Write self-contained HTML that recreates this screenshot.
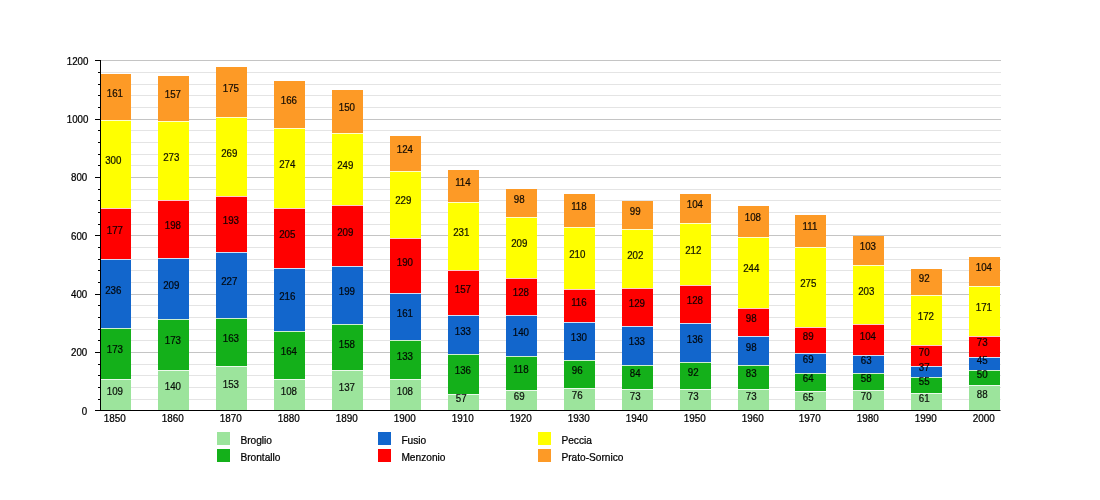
<!DOCTYPE html>
<html><head><meta charset="utf-8"><title>Chart</title>
<style>
html,body{margin:0;padding:0;background:#fff;}
body{width:1100px;height:500px;overflow:hidden;}
svg{display:block;}
text{font-family:"Liberation Sans",sans-serif;fill:#000;stroke:#000;stroke-width:0.25px;}
</style></head><body>
<svg width="1100" height="500" viewBox="0 0 1100 500">
<rect width="1100" height="500" fill="#fff"/>

<g stroke-width="1">
<line x1="101" x2="1001" y1="399.5" y2="399.5" stroke="#e4e4e4"/>
<line x1="101" x2="1001" y1="387.5" y2="387.5" stroke="#e4e4e4"/>
<line x1="101" x2="1001" y1="375.5" y2="375.5" stroke="#e4e4e4"/>
<line x1="101" x2="1001" y1="364.5" y2="364.5" stroke="#e4e4e4"/>
<line x1="101" x2="1001" y1="340.5" y2="340.5" stroke="#e4e4e4"/>
<line x1="101" x2="1001" y1="329.5" y2="329.5" stroke="#e4e4e4"/>
<line x1="101" x2="1001" y1="317.5" y2="317.5" stroke="#e4e4e4"/>
<line x1="101" x2="1001" y1="305.5" y2="305.5" stroke="#e4e4e4"/>
<line x1="101" x2="1001" y1="282.5" y2="282.5" stroke="#e4e4e4"/>
<line x1="101" x2="1001" y1="270.5" y2="270.5" stroke="#e4e4e4"/>
<line x1="101" x2="1001" y1="259.5" y2="259.5" stroke="#e4e4e4"/>
<line x1="101" x2="1001" y1="247.5" y2="247.5" stroke="#e4e4e4"/>
<line x1="101" x2="1001" y1="224.5" y2="224.5" stroke="#e4e4e4"/>
<line x1="101" x2="1001" y1="212.5" y2="212.5" stroke="#e4e4e4"/>
<line x1="101" x2="1001" y1="200.5" y2="200.5" stroke="#e4e4e4"/>
<line x1="101" x2="1001" y1="189.5" y2="189.5" stroke="#e4e4e4"/>
<line x1="101" x2="1001" y1="165.5" y2="165.5" stroke="#e4e4e4"/>
<line x1="101" x2="1001" y1="154.5" y2="154.5" stroke="#e4e4e4"/>
<line x1="101" x2="1001" y1="142.5" y2="142.5" stroke="#e4e4e4"/>
<line x1="101" x2="1001" y1="130.5" y2="130.5" stroke="#e4e4e4"/>
<line x1="101" x2="1001" y1="107.5" y2="107.5" stroke="#e4e4e4"/>
<line x1="101" x2="1001" y1="95.5" y2="95.5" stroke="#e4e4e4"/>
<line x1="101" x2="1001" y1="84.5" y2="84.5" stroke="#e4e4e4"/>
<line x1="101" x2="1001" y1="72.5" y2="72.5" stroke="#e4e4e4"/>
<line x1="101" x2="1001" y1="352.5" y2="352.5" stroke="#c4c4c4"/>
<line x1="101" x2="1001" y1="294.5" y2="294.5" stroke="#c4c4c4"/>
<line x1="101" x2="1001" y1="235.5" y2="235.5" stroke="#c4c4c4"/>
<line x1="101" x2="1001" y1="177.5" y2="177.5" stroke="#c4c4c4"/>
<line x1="101" x2="1001" y1="119.5" y2="119.5" stroke="#c4c4c4"/>
<line x1="101" x2="1001" y1="60.5" y2="60.5" stroke="#c4c4c4"/>
</g>
<g>
<rect x="100" y="380" width="31" height="31" fill="#9ce49c"/>
<rect x="100" y="379" width="31" height="1" fill="#9ce49c"/>
<rect x="100" y="379" width="31" height="1" fill="#fff" fill-opacity="0.8"/>
<rect x="100" y="329" width="31" height="50" fill="#14b01a"/>
<rect x="100" y="328" width="31" height="1" fill="#14b01a"/>
<rect x="100" y="328" width="31" height="1" fill="#fff" fill-opacity="0.8"/>
<rect x="100" y="260" width="31" height="68" fill="#1266cc"/>
<rect x="100" y="259" width="31" height="1" fill="#1266cc"/>
<rect x="100" y="259" width="31" height="1" fill="#fff" fill-opacity="0.8"/>
<rect x="100" y="209" width="31" height="50" fill="#ff0000"/>
<rect x="100" y="208" width="31" height="1" fill="#ff0000"/>
<rect x="100" y="208" width="31" height="1" fill="#fff" fill-opacity="0.8"/>
<rect x="100" y="121" width="31" height="87" fill="#ffff00"/>
<rect x="100" y="120" width="31" height="1" fill="#ffff00"/>
<rect x="100" y="120" width="31" height="1" fill="#fff" fill-opacity="0.8"/>
<rect x="100" y="74" width="31" height="46" fill="#fd9a26"/>
</g>
<g>
<rect x="158" y="371" width="31" height="40" fill="#9ce49c"/>
<rect x="158" y="370" width="31" height="1" fill="#9ce49c"/>
<rect x="158" y="370" width="31" height="1" fill="#fff" fill-opacity="0.8"/>
<rect x="158" y="320" width="31" height="50" fill="#14b01a"/>
<rect x="158" y="319" width="31" height="1" fill="#14b01a"/>
<rect x="158" y="319" width="31" height="1" fill="#fff" fill-opacity="0.8"/>
<rect x="158" y="259" width="31" height="60" fill="#1266cc"/>
<rect x="158" y="258" width="31" height="1" fill="#1266cc"/>
<rect x="158" y="258" width="31" height="1" fill="#fff" fill-opacity="0.8"/>
<rect x="158" y="201" width="31" height="57" fill="#ff0000"/>
<rect x="158" y="200" width="31" height="1" fill="#ff0000"/>
<rect x="158" y="200" width="31" height="1" fill="#fff" fill-opacity="0.8"/>
<rect x="158" y="122" width="31" height="78" fill="#ffff00"/>
<rect x="158" y="121" width="31" height="1" fill="#ffff00"/>
<rect x="158" y="121" width="31" height="1" fill="#fff" fill-opacity="0.8"/>
<rect x="158" y="76" width="31" height="45" fill="#fd9a26"/>
</g>
<g>
<rect x="216" y="367" width="31" height="44" fill="#9ce49c"/>
<rect x="216" y="366" width="31" height="1" fill="#9ce49c"/>
<rect x="216" y="366" width="31" height="1" fill="#fff" fill-opacity="0.8"/>
<rect x="216" y="319" width="31" height="47" fill="#14b01a"/>
<rect x="216" y="318" width="31" height="1" fill="#14b01a"/>
<rect x="216" y="318" width="31" height="1" fill="#fff" fill-opacity="0.8"/>
<rect x="216" y="253" width="31" height="65" fill="#1266cc"/>
<rect x="216" y="252" width="31" height="1" fill="#1266cc"/>
<rect x="216" y="252" width="31" height="1" fill="#fff" fill-opacity="0.8"/>
<rect x="216" y="197" width="31" height="55" fill="#ff0000"/>
<rect x="216" y="196" width="31" height="1" fill="#ff0000"/>
<rect x="216" y="196" width="31" height="1" fill="#fff" fill-opacity="0.8"/>
<rect x="216" y="118" width="31" height="78" fill="#ffff00"/>
<rect x="216" y="117" width="31" height="1" fill="#ffff00"/>
<rect x="216" y="117" width="31" height="1" fill="#fff" fill-opacity="0.8"/>
<rect x="216" y="67" width="31" height="50" fill="#fd9a26"/>
</g>
<g>
<rect x="274" y="380" width="31" height="31" fill="#9ce49c"/>
<rect x="274" y="379" width="31" height="1" fill="#9ce49c"/>
<rect x="274" y="379" width="31" height="1" fill="#fff" fill-opacity="0.8"/>
<rect x="274" y="332" width="31" height="47" fill="#14b01a"/>
<rect x="274" y="331" width="31" height="1" fill="#14b01a"/>
<rect x="274" y="331" width="31" height="1" fill="#fff" fill-opacity="0.8"/>
<rect x="274" y="269" width="31" height="62" fill="#1266cc"/>
<rect x="274" y="268" width="31" height="1" fill="#1266cc"/>
<rect x="274" y="268" width="31" height="1" fill="#fff" fill-opacity="0.8"/>
<rect x="274" y="209" width="31" height="59" fill="#ff0000"/>
<rect x="274" y="208" width="31" height="1" fill="#ff0000"/>
<rect x="274" y="208" width="31" height="1" fill="#fff" fill-opacity="0.8"/>
<rect x="274" y="129" width="31" height="79" fill="#ffff00"/>
<rect x="274" y="128" width="31" height="1" fill="#ffff00"/>
<rect x="274" y="128" width="31" height="1" fill="#fff" fill-opacity="0.8"/>
<rect x="274" y="81" width="31" height="47" fill="#fd9a26"/>
</g>
<g>
<rect x="332" y="371" width="31" height="40" fill="#9ce49c"/>
<rect x="332" y="370" width="31" height="1" fill="#9ce49c"/>
<rect x="332" y="370" width="31" height="1" fill="#fff" fill-opacity="0.8"/>
<rect x="332" y="325" width="31" height="45" fill="#14b01a"/>
<rect x="332" y="324" width="31" height="1" fill="#14b01a"/>
<rect x="332" y="324" width="31" height="1" fill="#fff" fill-opacity="0.8"/>
<rect x="332" y="267" width="31" height="57" fill="#1266cc"/>
<rect x="332" y="266" width="31" height="1" fill="#1266cc"/>
<rect x="332" y="266" width="31" height="1" fill="#fff" fill-opacity="0.8"/>
<rect x="332" y="206" width="31" height="60" fill="#ff0000"/>
<rect x="332" y="205" width="31" height="1" fill="#ff0000"/>
<rect x="332" y="205" width="31" height="1" fill="#fff" fill-opacity="0.8"/>
<rect x="332" y="134" width="31" height="71" fill="#ffff00"/>
<rect x="332" y="133" width="31" height="1" fill="#ffff00"/>
<rect x="332" y="133" width="31" height="1" fill="#fff" fill-opacity="0.8"/>
<rect x="332" y="90" width="31" height="43" fill="#fd9a26"/>
</g>
<g>
<rect x="390" y="380" width="31" height="31" fill="#9ce49c"/>
<rect x="390" y="379" width="31" height="1" fill="#9ce49c"/>
<rect x="390" y="379" width="31" height="1" fill="#fff" fill-opacity="0.8"/>
<rect x="390" y="341" width="31" height="38" fill="#14b01a"/>
<rect x="390" y="340" width="31" height="1" fill="#14b01a"/>
<rect x="390" y="340" width="31" height="1" fill="#fff" fill-opacity="0.8"/>
<rect x="390" y="294" width="31" height="46" fill="#1266cc"/>
<rect x="390" y="293" width="31" height="1" fill="#1266cc"/>
<rect x="390" y="293" width="31" height="1" fill="#fff" fill-opacity="0.8"/>
<rect x="390" y="239" width="31" height="54" fill="#ff0000"/>
<rect x="390" y="238" width="31" height="1" fill="#ff0000"/>
<rect x="390" y="238" width="31" height="1" fill="#fff" fill-opacity="0.8"/>
<rect x="390" y="172" width="31" height="66" fill="#ffff00"/>
<rect x="390" y="171" width="31" height="1" fill="#ffff00"/>
<rect x="390" y="171" width="31" height="1" fill="#fff" fill-opacity="0.8"/>
<rect x="390" y="136" width="31" height="35" fill="#fd9a26"/>
</g>
<g>
<rect x="448" y="395" width="31" height="16" fill="#9ce49c"/>
<rect x="448" y="394" width="31" height="1" fill="#9ce49c"/>
<rect x="448" y="394" width="31" height="1" fill="#fff" fill-opacity="0.8"/>
<rect x="448" y="355" width="31" height="39" fill="#14b01a"/>
<rect x="448" y="354" width="31" height="1" fill="#14b01a"/>
<rect x="448" y="354" width="31" height="1" fill="#fff" fill-opacity="0.8"/>
<rect x="448" y="316" width="31" height="38" fill="#1266cc"/>
<rect x="448" y="315" width="31" height="1" fill="#1266cc"/>
<rect x="448" y="315" width="31" height="1" fill="#fff" fill-opacity="0.8"/>
<rect x="448" y="271" width="31" height="44" fill="#ff0000"/>
<rect x="448" y="270" width="31" height="1" fill="#ff0000"/>
<rect x="448" y="270" width="31" height="1" fill="#fff" fill-opacity="0.8"/>
<rect x="448" y="203" width="31" height="67" fill="#ffff00"/>
<rect x="448" y="202" width="31" height="1" fill="#ffff00"/>
<rect x="448" y="202" width="31" height="1" fill="#fff" fill-opacity="0.8"/>
<rect x="448" y="170" width="31" height="32" fill="#fd9a26"/>
</g>
<g>
<rect x="506" y="391" width="31" height="20" fill="#9ce49c"/>
<rect x="506" y="390" width="31" height="1" fill="#9ce49c"/>
<rect x="506" y="390" width="31" height="1" fill="#fff" fill-opacity="0.8"/>
<rect x="506" y="357" width="31" height="33" fill="#14b01a"/>
<rect x="506" y="356" width="31" height="1" fill="#14b01a"/>
<rect x="506" y="356" width="31" height="1" fill="#fff" fill-opacity="0.8"/>
<rect x="506" y="316" width="31" height="40" fill="#1266cc"/>
<rect x="506" y="315" width="31" height="1" fill="#1266cc"/>
<rect x="506" y="315" width="31" height="1" fill="#fff" fill-opacity="0.8"/>
<rect x="506" y="279" width="31" height="36" fill="#ff0000"/>
<rect x="506" y="278" width="31" height="1" fill="#ff0000"/>
<rect x="506" y="278" width="31" height="1" fill="#fff" fill-opacity="0.8"/>
<rect x="506" y="218" width="31" height="60" fill="#ffff00"/>
<rect x="506" y="217" width="31" height="1" fill="#ffff00"/>
<rect x="506" y="217" width="31" height="1" fill="#fff" fill-opacity="0.8"/>
<rect x="506" y="189" width="31" height="28" fill="#fd9a26"/>
</g>
<g>
<rect x="564" y="389" width="31" height="22" fill="#9ce49c"/>
<rect x="564" y="388" width="31" height="1" fill="#9ce49c"/>
<rect x="564" y="388" width="31" height="1" fill="#fff" fill-opacity="0.8"/>
<rect x="564" y="361" width="31" height="27" fill="#14b01a"/>
<rect x="564" y="360" width="31" height="1" fill="#14b01a"/>
<rect x="564" y="360" width="31" height="1" fill="#fff" fill-opacity="0.8"/>
<rect x="564" y="323" width="31" height="37" fill="#1266cc"/>
<rect x="564" y="322" width="31" height="1" fill="#1266cc"/>
<rect x="564" y="322" width="31" height="1" fill="#fff" fill-opacity="0.8"/>
<rect x="564" y="290" width="31" height="32" fill="#ff0000"/>
<rect x="564" y="289" width="31" height="1" fill="#ff0000"/>
<rect x="564" y="289" width="31" height="1" fill="#fff" fill-opacity="0.8"/>
<rect x="564" y="228" width="31" height="61" fill="#ffff00"/>
<rect x="564" y="227" width="31" height="1" fill="#ffff00"/>
<rect x="564" y="227" width="31" height="1" fill="#fff" fill-opacity="0.8"/>
<rect x="564" y="194" width="31" height="33" fill="#fd9a26"/>
</g>
<g>
<rect x="622" y="390" width="31" height="21" fill="#9ce49c"/>
<rect x="622" y="389" width="31" height="1" fill="#9ce49c"/>
<rect x="622" y="389" width="31" height="1" fill="#fff" fill-opacity="0.8"/>
<rect x="622" y="366" width="31" height="23" fill="#14b01a"/>
<rect x="622" y="365" width="31" height="1" fill="#14b01a"/>
<rect x="622" y="365" width="31" height="1" fill="#fff" fill-opacity="0.8"/>
<rect x="622" y="327" width="31" height="38" fill="#1266cc"/>
<rect x="622" y="326" width="31" height="1" fill="#1266cc"/>
<rect x="622" y="326" width="31" height="1" fill="#fff" fill-opacity="0.8"/>
<rect x="622" y="289" width="31" height="37" fill="#ff0000"/>
<rect x="622" y="288" width="31" height="1" fill="#ff0000"/>
<rect x="622" y="288" width="31" height="1" fill="#fff" fill-opacity="0.8"/>
<rect x="622" y="230" width="31" height="58" fill="#ffff00"/>
<rect x="622" y="229" width="31" height="1" fill="#ffff00"/>
<rect x="622" y="229" width="31" height="1" fill="#fff" fill-opacity="0.8"/>
<rect x="622" y="201" width="31" height="28" fill="#fd9a26"/>
</g>
<g>
<rect x="680" y="390" width="31" height="21" fill="#9ce49c"/>
<rect x="680" y="389" width="31" height="1" fill="#9ce49c"/>
<rect x="680" y="389" width="31" height="1" fill="#fff" fill-opacity="0.8"/>
<rect x="680" y="363" width="31" height="26" fill="#14b01a"/>
<rect x="680" y="362" width="31" height="1" fill="#14b01a"/>
<rect x="680" y="362" width="31" height="1" fill="#fff" fill-opacity="0.8"/>
<rect x="680" y="324" width="31" height="38" fill="#1266cc"/>
<rect x="680" y="323" width="31" height="1" fill="#1266cc"/>
<rect x="680" y="323" width="31" height="1" fill="#fff" fill-opacity="0.8"/>
<rect x="680" y="286" width="31" height="37" fill="#ff0000"/>
<rect x="680" y="285" width="31" height="1" fill="#ff0000"/>
<rect x="680" y="285" width="31" height="1" fill="#fff" fill-opacity="0.8"/>
<rect x="680" y="224" width="31" height="61" fill="#ffff00"/>
<rect x="680" y="223" width="31" height="1" fill="#ffff00"/>
<rect x="680" y="223" width="31" height="1" fill="#fff" fill-opacity="0.8"/>
<rect x="680" y="194" width="31" height="29" fill="#fd9a26"/>
</g>
<g>
<rect x="738" y="390" width="31" height="21" fill="#9ce49c"/>
<rect x="738" y="389" width="31" height="1" fill="#9ce49c"/>
<rect x="738" y="389" width="31" height="1" fill="#fff" fill-opacity="0.8"/>
<rect x="738" y="366" width="31" height="23" fill="#14b01a"/>
<rect x="738" y="365" width="31" height="1" fill="#14b01a"/>
<rect x="738" y="365" width="31" height="1" fill="#fff" fill-opacity="0.8"/>
<rect x="738" y="337" width="31" height="28" fill="#1266cc"/>
<rect x="738" y="336" width="31" height="1" fill="#1266cc"/>
<rect x="738" y="336" width="31" height="1" fill="#fff" fill-opacity="0.8"/>
<rect x="738" y="309" width="31" height="27" fill="#ff0000"/>
<rect x="738" y="308" width="31" height="1" fill="#ff0000"/>
<rect x="738" y="308" width="31" height="1" fill="#fff" fill-opacity="0.8"/>
<rect x="738" y="238" width="31" height="70" fill="#ffff00"/>
<rect x="738" y="237" width="31" height="1" fill="#ffff00"/>
<rect x="738" y="237" width="31" height="1" fill="#fff" fill-opacity="0.8"/>
<rect x="738" y="206" width="31" height="31" fill="#fd9a26"/>
</g>
<g>
<rect x="795" y="392" width="31" height="19" fill="#9ce49c"/>
<rect x="795" y="391" width="31" height="1" fill="#9ce49c"/>
<rect x="795" y="391" width="31" height="1" fill="#fff" fill-opacity="0.8"/>
<rect x="795" y="374" width="31" height="17" fill="#14b01a"/>
<rect x="795" y="373" width="31" height="1" fill="#14b01a"/>
<rect x="795" y="373" width="31" height="1" fill="#fff" fill-opacity="0.8"/>
<rect x="795" y="354" width="31" height="19" fill="#1266cc"/>
<rect x="795" y="353" width="31" height="1" fill="#1266cc"/>
<rect x="795" y="353" width="31" height="1" fill="#fff" fill-opacity="0.8"/>
<rect x="795" y="328" width="31" height="25" fill="#ff0000"/>
<rect x="795" y="327" width="31" height="1" fill="#ff0000"/>
<rect x="795" y="327" width="31" height="1" fill="#fff" fill-opacity="0.8"/>
<rect x="795" y="248" width="31" height="79" fill="#ffff00"/>
<rect x="795" y="247" width="31" height="1" fill="#ffff00"/>
<rect x="795" y="247" width="31" height="1" fill="#fff" fill-opacity="0.8"/>
<rect x="795" y="215" width="31" height="32" fill="#fd9a26"/>
</g>
<g>
<rect x="853" y="391" width="31" height="20" fill="#9ce49c"/>
<rect x="853" y="390" width="31" height="1" fill="#9ce49c"/>
<rect x="853" y="390" width="31" height="1" fill="#fff" fill-opacity="0.8"/>
<rect x="853" y="374" width="31" height="16" fill="#14b01a"/>
<rect x="853" y="373" width="31" height="1" fill="#14b01a"/>
<rect x="853" y="373" width="31" height="1" fill="#fff" fill-opacity="0.8"/>
<rect x="853" y="356" width="31" height="17" fill="#1266cc"/>
<rect x="853" y="355" width="31" height="1" fill="#1266cc"/>
<rect x="853" y="355" width="31" height="1" fill="#fff" fill-opacity="0.8"/>
<rect x="853" y="325" width="31" height="30" fill="#ff0000"/>
<rect x="853" y="324" width="31" height="1" fill="#ff0000"/>
<rect x="853" y="324" width="31" height="1" fill="#fff" fill-opacity="0.8"/>
<rect x="853" y="266" width="31" height="58" fill="#ffff00"/>
<rect x="853" y="265" width="31" height="1" fill="#ffff00"/>
<rect x="853" y="265" width="31" height="1" fill="#fff" fill-opacity="0.8"/>
<rect x="853" y="236" width="31" height="29" fill="#fd9a26"/>
</g>
<g>
<rect x="911" y="394" width="31" height="17" fill="#9ce49c"/>
<rect x="911" y="393" width="31" height="1" fill="#9ce49c"/>
<rect x="911" y="393" width="31" height="1" fill="#fff" fill-opacity="0.8"/>
<rect x="911" y="378" width="31" height="15" fill="#14b01a"/>
<rect x="911" y="377" width="31" height="1" fill="#14b01a"/>
<rect x="911" y="377" width="31" height="1" fill="#fff" fill-opacity="0.8"/>
<rect x="911" y="367" width="31" height="10" fill="#1266cc"/>
<rect x="911" y="366" width="31" height="1" fill="#1266cc"/>
<rect x="911" y="366" width="31" height="1" fill="#fff" fill-opacity="0.8"/>
<rect x="911" y="346" width="31" height="20" fill="#ff0000"/>
<rect x="911" y="345" width="31" height="1" fill="#ff0000"/>
<rect x="911" y="345" width="31" height="1" fill="#fff" fill-opacity="0.8"/>
<rect x="911" y="296" width="31" height="49" fill="#ffff00"/>
<rect x="911" y="295" width="31" height="1" fill="#ffff00"/>
<rect x="911" y="295" width="31" height="1" fill="#fff" fill-opacity="0.8"/>
<rect x="911" y="269" width="31" height="26" fill="#fd9a26"/>
</g>
<g>
<rect x="969" y="386" width="31" height="25" fill="#9ce49c"/>
<rect x="969" y="385" width="31" height="1" fill="#9ce49c"/>
<rect x="969" y="385" width="31" height="1" fill="#fff" fill-opacity="0.8"/>
<rect x="969" y="371" width="31" height="14" fill="#14b01a"/>
<rect x="969" y="370" width="31" height="1" fill="#14b01a"/>
<rect x="969" y="370" width="31" height="1" fill="#fff" fill-opacity="0.8"/>
<rect x="969" y="358" width="31" height="12" fill="#1266cc"/>
<rect x="969" y="357" width="31" height="1" fill="#1266cc"/>
<rect x="969" y="357" width="31" height="1" fill="#fff" fill-opacity="0.8"/>
<rect x="969" y="337" width="31" height="20" fill="#ff0000"/>
<rect x="969" y="336" width="31" height="1" fill="#ff0000"/>
<rect x="969" y="336" width="31" height="1" fill="#fff" fill-opacity="0.8"/>
<rect x="969" y="287" width="31" height="49" fill="#ffff00"/>
<rect x="969" y="286" width="31" height="1" fill="#ffff00"/>
<rect x="969" y="286" width="31" height="1" fill="#fff" fill-opacity="0.8"/>
<rect x="969" y="257" width="31" height="29" fill="#fd9a26"/>
</g>
<g font-size="11" fill-opacity="0.9" stroke-opacity="0.9">
<text transform="translate(114.90,395.00) scale(0.885,1)" text-anchor="middle">109</text>
<text transform="translate(114.90,353.00) scale(0.885,1)" text-anchor="middle">173</text>
<text transform="translate(113.30,294.00) scale(0.885,1)" text-anchor="middle">236</text>
<text transform="translate(114.90,234.00) scale(0.885,1)" text-anchor="middle">177</text>
<text transform="translate(113.30,164.00) scale(0.885,1)" text-anchor="middle">300</text>
<text transform="translate(114.90,97.00) scale(0.885,1)" text-anchor="middle">161</text>
<text transform="translate(172.90,390.00) scale(0.885,1)" text-anchor="middle">140</text>
<text transform="translate(172.90,344.00) scale(0.885,1)" text-anchor="middle">173</text>
<text transform="translate(171.30,289.00) scale(0.885,1)" text-anchor="middle">209</text>
<text transform="translate(172.90,229.00) scale(0.885,1)" text-anchor="middle">198</text>
<text transform="translate(171.30,161.00) scale(0.885,1)" text-anchor="middle">273</text>
<text transform="translate(172.90,98.00) scale(0.885,1)" text-anchor="middle">157</text>
<text transform="translate(230.90,388.00) scale(0.885,1)" text-anchor="middle">153</text>
<text transform="translate(230.90,342.00) scale(0.885,1)" text-anchor="middle">163</text>
<text transform="translate(229.30,285.00) scale(0.885,1)" text-anchor="middle">227</text>
<text transform="translate(230.90,224.00) scale(0.885,1)" text-anchor="middle">193</text>
<text transform="translate(229.30,157.00) scale(0.885,1)" text-anchor="middle">269</text>
<text transform="translate(230.90,92.00) scale(0.885,1)" text-anchor="middle">175</text>
<text transform="translate(288.90,395.00) scale(0.885,1)" text-anchor="middle">108</text>
<text transform="translate(288.90,355.00) scale(0.885,1)" text-anchor="middle">164</text>
<text transform="translate(287.30,300.00) scale(0.885,1)" text-anchor="middle">216</text>
<text transform="translate(287.30,238.00) scale(0.885,1)" text-anchor="middle">205</text>
<text transform="translate(287.30,168.00) scale(0.885,1)" text-anchor="middle">274</text>
<text transform="translate(288.90,104.00) scale(0.885,1)" text-anchor="middle">166</text>
<text transform="translate(346.90,391.00) scale(0.885,1)" text-anchor="middle">137</text>
<text transform="translate(346.90,348.00) scale(0.885,1)" text-anchor="middle">158</text>
<text transform="translate(346.90,295.00) scale(0.885,1)" text-anchor="middle">199</text>
<text transform="translate(345.30,236.00) scale(0.885,1)" text-anchor="middle">209</text>
<text transform="translate(345.30,169.00) scale(0.885,1)" text-anchor="middle">249</text>
<text transform="translate(346.90,111.00) scale(0.885,1)" text-anchor="middle">150</text>
<text transform="translate(404.90,395.00) scale(0.885,1)" text-anchor="middle">108</text>
<text transform="translate(404.90,360.00) scale(0.885,1)" text-anchor="middle">133</text>
<text transform="translate(404.90,317.00) scale(0.885,1)" text-anchor="middle">161</text>
<text transform="translate(404.90,266.00) scale(0.885,1)" text-anchor="middle">190</text>
<text transform="translate(403.30,204.00) scale(0.885,1)" text-anchor="middle">229</text>
<text transform="translate(404.90,153.00) scale(0.885,1)" text-anchor="middle">124</text>
<text transform="translate(461.20,402.00) scale(0.885,1)" text-anchor="middle">57</text>
<text transform="translate(462.90,374.00) scale(0.885,1)" text-anchor="middle">136</text>
<text transform="translate(462.90,335.00) scale(0.885,1)" text-anchor="middle">133</text>
<text transform="translate(462.90,293.00) scale(0.885,1)" text-anchor="middle">157</text>
<text transform="translate(461.30,236.00) scale(0.885,1)" text-anchor="middle">231</text>
<text transform="translate(462.90,186.00) scale(0.885,1)" text-anchor="middle">114</text>
<text transform="translate(519.20,400.00) scale(0.885,1)" text-anchor="middle">69</text>
<text transform="translate(520.90,373.00) scale(0.885,1)" text-anchor="middle">118</text>
<text transform="translate(520.90,336.00) scale(0.885,1)" text-anchor="middle">140</text>
<text transform="translate(520.90,296.00) scale(0.885,1)" text-anchor="middle">128</text>
<text transform="translate(519.30,247.00) scale(0.885,1)" text-anchor="middle">209</text>
<text transform="translate(519.20,203.00) scale(0.885,1)" text-anchor="middle">98</text>
<text transform="translate(577.20,399.00) scale(0.885,1)" text-anchor="middle">76</text>
<text transform="translate(577.20,374.00) scale(0.885,1)" text-anchor="middle">96</text>
<text transform="translate(578.90,341.00) scale(0.885,1)" text-anchor="middle">130</text>
<text transform="translate(578.90,306.00) scale(0.885,1)" text-anchor="middle">116</text>
<text transform="translate(577.30,258.00) scale(0.885,1)" text-anchor="middle">210</text>
<text transform="translate(578.90,210.00) scale(0.885,1)" text-anchor="middle">118</text>
<text transform="translate(635.20,400.00) scale(0.885,1)" text-anchor="middle">73</text>
<text transform="translate(635.20,377.00) scale(0.885,1)" text-anchor="middle">84</text>
<text transform="translate(636.90,345.00) scale(0.885,1)" text-anchor="middle">133</text>
<text transform="translate(636.90,307.00) scale(0.885,1)" text-anchor="middle">129</text>
<text transform="translate(635.30,259.00) scale(0.885,1)" text-anchor="middle">202</text>
<text transform="translate(635.20,215.00) scale(0.885,1)" text-anchor="middle">99</text>
<text transform="translate(693.20,400.00) scale(0.885,1)" text-anchor="middle">73</text>
<text transform="translate(693.20,376.00) scale(0.885,1)" text-anchor="middle">92</text>
<text transform="translate(694.90,343.00) scale(0.885,1)" text-anchor="middle">136</text>
<text transform="translate(694.90,304.00) scale(0.885,1)" text-anchor="middle">128</text>
<text transform="translate(693.30,254.00) scale(0.885,1)" text-anchor="middle">212</text>
<text transform="translate(694.90,208.00) scale(0.885,1)" text-anchor="middle">104</text>
<text transform="translate(751.20,400.00) scale(0.885,1)" text-anchor="middle">73</text>
<text transform="translate(751.20,377.00) scale(0.885,1)" text-anchor="middle">83</text>
<text transform="translate(751.20,351.00) scale(0.885,1)" text-anchor="middle">98</text>
<text transform="translate(751.20,322.00) scale(0.885,1)" text-anchor="middle">98</text>
<text transform="translate(751.30,272.00) scale(0.885,1)" text-anchor="middle">244</text>
<text transform="translate(752.90,221.00) scale(0.885,1)" text-anchor="middle">108</text>
<text transform="translate(808.20,401.00) scale(0.885,1)" text-anchor="middle">65</text>
<text transform="translate(808.20,382.00) scale(0.885,1)" text-anchor="middle">64</text>
<text transform="translate(808.20,363.00) scale(0.885,1)" text-anchor="middle">69</text>
<text transform="translate(808.20,340.00) scale(0.885,1)" text-anchor="middle">89</text>
<text transform="translate(808.30,287.00) scale(0.885,1)" text-anchor="middle">275</text>
<text transform="translate(809.90,230.00) scale(0.885,1)" text-anchor="middle">111</text>
<text transform="translate(866.20,400.00) scale(0.885,1)" text-anchor="middle">70</text>
<text transform="translate(866.20,382.00) scale(0.885,1)" text-anchor="middle">58</text>
<text transform="translate(866.20,364.00) scale(0.885,1)" text-anchor="middle">63</text>
<text transform="translate(867.90,340.00) scale(0.885,1)" text-anchor="middle">104</text>
<text transform="translate(866.30,295.00) scale(0.885,1)" text-anchor="middle">203</text>
<text transform="translate(867.90,250.00) scale(0.885,1)" text-anchor="middle">103</text>
<text transform="translate(924.20,402.00) scale(0.885,1)" text-anchor="middle">61</text>
<text transform="translate(924.20,385.00) scale(0.885,1)" text-anchor="middle">55</text>
<text transform="translate(924.20,371.00) scale(0.885,1)" text-anchor="middle">37</text>
<text transform="translate(924.20,356.00) scale(0.885,1)" text-anchor="middle">70</text>
<text transform="translate(925.90,320.00) scale(0.885,1)" text-anchor="middle">172</text>
<text transform="translate(924.20,282.00) scale(0.885,1)" text-anchor="middle">92</text>
<text transform="translate(982.20,398.00) scale(0.885,1)" text-anchor="middle">88</text>
<text transform="translate(982.20,378.00) scale(0.885,1)" text-anchor="middle">50</text>
<text transform="translate(982.20,364.00) scale(0.885,1)" text-anchor="middle">45</text>
<text transform="translate(982.20,346.00) scale(0.885,1)" text-anchor="middle">73</text>
<text transform="translate(983.90,311.00) scale(0.885,1)" text-anchor="middle">171</text>
<text transform="translate(983.90,271.00) scale(0.885,1)" text-anchor="middle">104</text>
</g>
<g fill="#000">
<rect x="100" y="60" width="1" height="351"/>
<rect x="95" y="410" width="905.5" height="1"/>
<rect x="95" y="410" width="5.5" height="1"/>
<rect x="98" y="399" width="2.5" height="1"/>
<rect x="98" y="387" width="2.5" height="1"/>
<rect x="98" y="375" width="2.5" height="1"/>
<rect x="98" y="364" width="2.5" height="1"/>
<rect x="95" y="352" width="5.5" height="1"/>
<rect x="98" y="340" width="2.5" height="1"/>
<rect x="98" y="329" width="2.5" height="1"/>
<rect x="98" y="317" width="2.5" height="1"/>
<rect x="98" y="305" width="2.5" height="1"/>
<rect x="95" y="294" width="5.5" height="1"/>
<rect x="98" y="282" width="2.5" height="1"/>
<rect x="98" y="270" width="2.5" height="1"/>
<rect x="98" y="259" width="2.5" height="1"/>
<rect x="98" y="247" width="2.5" height="1"/>
<rect x="95" y="235" width="5.5" height="1"/>
<rect x="98" y="224" width="2.5" height="1"/>
<rect x="98" y="212" width="2.5" height="1"/>
<rect x="98" y="200" width="2.5" height="1"/>
<rect x="98" y="189" width="2.5" height="1"/>
<rect x="95" y="177" width="5.5" height="1"/>
<rect x="98" y="165" width="2.5" height="1"/>
<rect x="98" y="154" width="2.5" height="1"/>
<rect x="98" y="142" width="2.5" height="1"/>
<rect x="98" y="130" width="2.5" height="1"/>
<rect x="95" y="119" width="5.5" height="1"/>
<rect x="98" y="107" width="2.5" height="1"/>
<rect x="98" y="95" width="2.5" height="1"/>
<rect x="98" y="84" width="2.5" height="1"/>
<rect x="98" y="72" width="2.5" height="1"/>
<rect x="95" y="60" width="5.5" height="1"/>
</g>
<g font-size="11">
<text transform="translate(87.20,414.90) scale(0.885,1)" text-anchor="end">0</text>
<text transform="translate(87.20,355.90) scale(0.885,1)" text-anchor="end">200</text>
<text transform="translate(87.20,297.90) scale(0.885,1)" text-anchor="end">400</text>
<text transform="translate(87.20,239.90) scale(0.885,1)" text-anchor="end">600</text>
<text transform="translate(87.20,180.90) scale(0.885,1)" text-anchor="end">800</text>
<text transform="translate(88.40,122.90) scale(0.885,1)" text-anchor="end">1000</text>
<text transform="translate(88.40,64.90) scale(0.885,1)" text-anchor="end">1200</text>
</g>
<g font-size="11">
<text transform="translate(114.70,422.00) scale(0.9,1)" text-anchor="middle">1850</text>
<text transform="translate(172.70,422.00) scale(0.9,1)" text-anchor="middle">1860</text>
<text transform="translate(230.70,422.00) scale(0.9,1)" text-anchor="middle">1870</text>
<text transform="translate(288.70,422.00) scale(0.9,1)" text-anchor="middle">1880</text>
<text transform="translate(346.70,422.00) scale(0.9,1)" text-anchor="middle">1890</text>
<text transform="translate(404.70,422.00) scale(0.9,1)" text-anchor="middle">1900</text>
<text transform="translate(462.70,422.00) scale(0.9,1)" text-anchor="middle">1910</text>
<text transform="translate(520.70,422.00) scale(0.9,1)" text-anchor="middle">1920</text>
<text transform="translate(578.70,422.00) scale(0.9,1)" text-anchor="middle">1930</text>
<text transform="translate(636.70,422.00) scale(0.9,1)" text-anchor="middle">1940</text>
<text transform="translate(694.70,422.00) scale(0.9,1)" text-anchor="middle">1950</text>
<text transform="translate(752.70,422.00) scale(0.9,1)" text-anchor="middle">1960</text>
<text transform="translate(809.70,422.00) scale(0.9,1)" text-anchor="middle">1970</text>
<text transform="translate(867.70,422.00) scale(0.9,1)" text-anchor="middle">1980</text>
<text transform="translate(925.70,422.00) scale(0.9,1)" text-anchor="middle">1990</text>
<text transform="translate(983.70,422.00) scale(0.9,1)" text-anchor="middle">2000</text>
</g>
<g font-size="11">
<rect x="217" y="432" width="13" height="13" fill="#9ce49c"/>
<text transform="translate(240.40,444.00) scale(0.925,1)" text-anchor="start">Broglio</text>
<rect x="217" y="449" width="13" height="13" fill="#14b01a"/>
<text transform="translate(240.40,461.00) scale(0.925,1)" text-anchor="start">Brontallo</text>
<rect x="378" y="432" width="13" height="13" fill="#1266cc"/>
<text transform="translate(401.40,444.00) scale(0.925,1)" text-anchor="start">Fusio</text>
<rect x="378" y="449" width="13" height="13" fill="#ff0000"/>
<text transform="translate(401.40,461.00) scale(0.925,1)" text-anchor="start">Menzonio</text>
<rect x="538" y="432" width="13" height="13" fill="#ffff00"/>
<text transform="translate(561.40,444.00) scale(0.925,1)" text-anchor="start">Peccia</text>
<rect x="538" y="449" width="13" height="13" fill="#fd9a26"/>
<text transform="translate(561.40,461.00) scale(0.925,1)" text-anchor="start">Prato-Sornico</text>
</g>
</svg></body></html>
